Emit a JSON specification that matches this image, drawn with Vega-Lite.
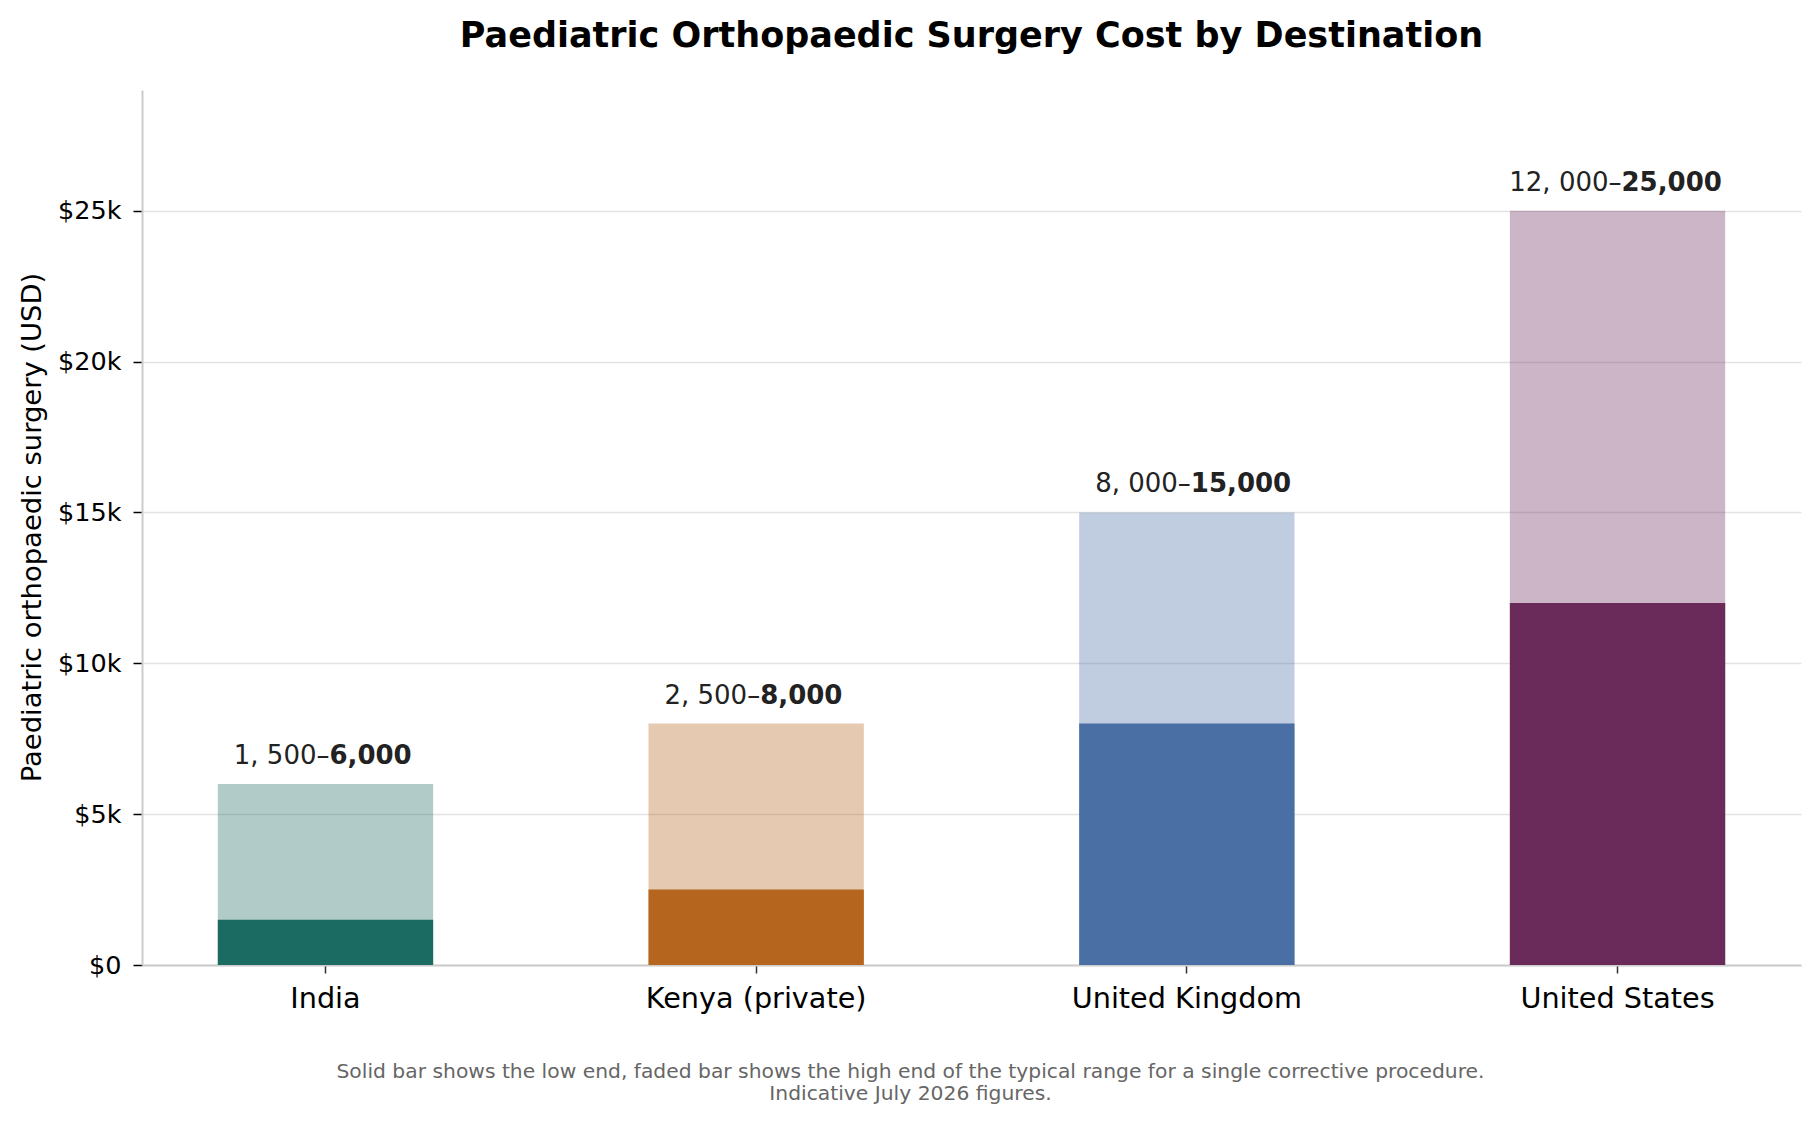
{
  "$schema": "https://vega.github.io/schema/vega-lite/v6.json",
  "width": 1659,
  "height": 875,
  "autosize": {"type": "none"},
  "padding": {"left": 142, "top": 90, "right": 19, "bottom": 157},
  "background": "white",
  "config": {
    "view": {"stroke": null},
    "font": "DejaVu Sans"
  },
  "title": {
    "text": "Paediatric Orthopaedic Surgery Cost by Destination",
    "font": "DejaVu Sans",
    "fontSize": 35,
    "fontWeight": "bold",
    "color": "#000000",
    "anchor": "middle",
    "frame": "group",
    "baseline": "alphabetic",
    "offset": 8
  },
  "data": {
    "values": [
      {"country": "India", "low": 1500, "high": 6000, "lowText": "1, 500–", "highText": "6,000"},
      {"country": "Kenya (private)", "low": 2500, "high": 8000, "lowText": "2, 500–", "highText": "8,000"},
      {"country": "United Kingdom", "low": 8000, "high": 15000, "lowText": "8, 000–", "highText": "15,000"},
      {"country": "United States", "low": 12000, "high": 25000, "lowText": "12, 000–", "highText": "25,000"}
    ]
  },
  "encoding": {
    "x": {
      "field": "country",
      "type": "nominal",
      "sort": null,
      "scale": {"paddingInner": 0.5, "paddingOuter": 0.176},
      "axis": {
        "labelAngle": 0,
        "labelFontSize": 28.7,
        "labelColor": "#000000",
        "labelPadding": 11,
        "labelLimit": 0,
        "tickSize": 8,
        "tickColor": "#333333",
        "tickWidth": 1.5,
        "domainColor": "#cccccc",
        "domainWidth": 2,
        "title": [
          "Solid bar shows the low end, faded bar shows the high end of the typical range for a single corrective procedure.",
          "Indicative July 2026 figures."
        ],
        "titleFontSize": 20.3,
        "titleFontWeight": "normal",
        "titleColor": "#666666",
        "titleX": 768,
        "titleY": 112,
        "titleAlign": "center",
        "titleBaseline": "alphabetic",
        "titleLineHeight": 22
      }
    },
    "color": {
      "field": "country",
      "type": "nominal",
      "scale": {
        "domain": ["India", "Kenya (private)", "United Kingdom", "United States"],
        "range": ["#1c6b62", "#b5651d", "#4a6fa5", "#6a2b5b"]
      },
      "legend": null
    }
  },
  "layer": [
    {
      "mark": {"type": "bar", "opacity": 0.35},
      "encoding": {
        "y": {
          "field": "high",
          "type": "quantitative",
          "title": "Paediatric orthopaedic surgery (USD)",
          "scale": {"domain": [0, 29000], "nice": false},
          "axis": {
            "values": [0, 5000, 10000, 15000, 20000, 25000],
            "labelExpr": "datum.value == 0 ? '$0' : '$' + (datum.value / 1000) + 'k'",
            "labelFontSize": 25.5,
            "labelColor": "#000000",
            "labelPadding": 12,
            "tickSize": 9,
            "tickColor": "#000000",
            "tickWidth": 1.5,
            "domainColor": "#cccccc",
            "domainWidth": 2,
            "grid": true,
            "gridColor": "#e3e3e3",
            "gridWidth": 1.5,
            "titleFontSize": 27.4,
            "titleFontWeight": "normal",
            "titleColor": "#000000",
            "titleX": -96,
            "titleY": 437,
            "titleAlign": "center",
            "titleAngle": -90
          }
        }
      }
    },
    {
      "mark": {"type": "bar"},
      "encoding": {
        "y": {"field": "low", "type": "quantitative", "title": "Paediatric orthopaedic surgery (USD)"}
      }
    },
    {
      "mark": {"type": "text", "align": "right", "baseline": "alphabetic", "dx": 4, "dy": -20, "fontSize": 26, "color": "#222222"},
      "encoding": {
        "y": {"field": "high", "type": "quantitative", "title": "Paediatric orthopaedic surgery (USD)"},
        "text": {"field": "lowText"},
        "color": {"value": "#222222"}
      }
    },
    {
      "mark": {"type": "text", "align": "left", "baseline": "alphabetic", "dx": 4, "dy": -20, "fontSize": 26, "fontWeight": "bold", "color": "#222222"},
      "encoding": {
        "y": {"field": "high", "type": "quantitative", "title": "Paediatric orthopaedic surgery (USD)"},
        "text": {"field": "highText"},
        "color": {"value": "#222222"}
      }
    }
  ]
}
